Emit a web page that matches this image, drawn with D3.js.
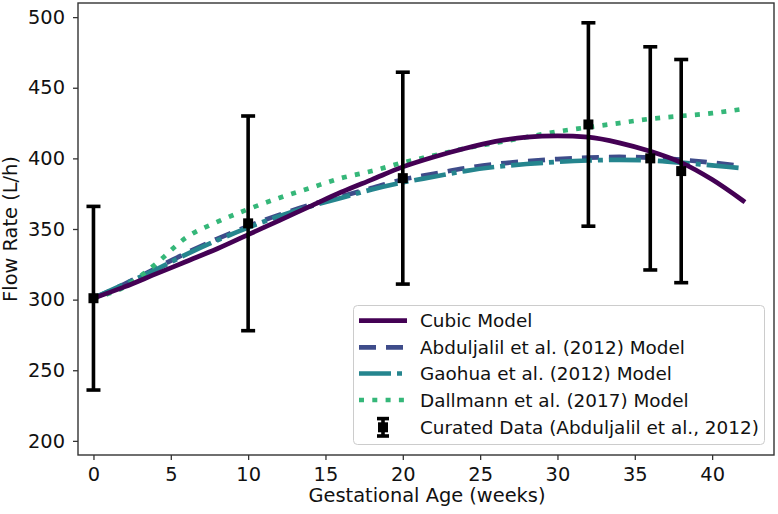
<!DOCTYPE html>
<html>
<head>
<meta charset="utf-8">
<script src="https://cdn.jsdelivr.net/npm/d3@7"></script>
<style>
  html, body { margin: 0; padding: 0; background: #fff; }
  svg { display: block; font-family: "DejaVu Sans", sans-serif; }
</style>
</head>
<body>
<svg id="chart" width="778" height="514"></svg>
<script>
// ---- data ----
const weeks = [0,2,4,6,8,10,12,14,16,18,20,22,24,26,28,30,32,34,36,38,40,42];
const cubicModel      = [301,309,318,327,336,346,356,366,376,385,394,401,407,412,415,416,415,411,405,397,385,370];
const abduljalilModel = [301,311,322,333,343,352,360,367,373,379,385,389,393,396,398,399.5,400.5,401,400.5,399,397,394.5];
const gaohuaModel     = [301,311,321,332,342,351,359,366,372,378,383,387,391,394,396,397.5,398.5,399,398.5,397,395,393];
const dallmannModel   = [301,309,325,344,355,364,372,379,386,391,397,402,407,411,415,419,422,425,428,430,432,435];

const dataWeeks = [0,10,20,32,36,38];
const dataMean  = [301,354,386,424,400,391];
const dataLow   = [236,278,311,352,321,312];
const dataHigh  = [366,430,461,496,479,470];

const xTicks = [0,5,10,15,20,25,30,35,40];
const yTicks = [200,250,300,350,400,450,500];

const seriesNames  = ["Cubic Model","Abduljalil et al. (2012) Model","Gaohua et al. (2012) Model","Dallmann et al. (2017) Model"];
const seriesColors = ["#440154","#3e4c8a","#25858e","#35b779"];
const seriesDash   = [null,"17,10","32,6,5,6","5,8.3"];
const dataLabel = "Curated Data (Abduljalil et al., 2012)";

// ---- layout ----
const svg = d3.select("#chart");
const L = 78, R = 774, T = 3, B = 455;
const x = d3.scaleLinear().domain([-1,44]).range([L,R]);
const y = d3.scaleLinear().domain([190,510]).range([B,T]);
const fs = 19.4;

svg.append("rect").attr("width",778).attr("height",514).attr("fill","#fff");

// axes
const xAxis = svg.append("g").attr("transform",`translate(0,${B})`)
  .call(d3.axisBottom(x).tickValues(xTicks).tickSize(5).tickPadding(7).tickFormat(d3.format("d")));
const yAxis = svg.append("g").attr("transform",`translate(${L},0)`)
  .call(d3.axisLeft(y).tickValues(yTicks).tickSize(5).tickPadding(8).tickFormat(d3.format("d")));
[xAxis,yAxis].forEach(a=>{
  a.select(".domain").remove();
  a.selectAll(".tick line").attr("stroke","#333").attr("stroke-width",1.3);
  a.selectAll(".tick text").attr("fill","#111").style("font-size",fs+"px").style("font-family","DejaVu Sans");
});

// curves
svg.append("defs").append("clipPath").attr("id","clip")
  .append("rect").attr("x",L).attr("y",T).attr("width",R-L).attr("height",B-T);
const plot = svg.append("g").attr("clip-path","url(#clip)");
const line = d3.line().x(d=>x(d[0])).y(d=>y(d[1])).curve(d3.curveMonotoneX);
const models = [cubicModel, abduljalilModel, gaohuaModel, dallmannModel];
const order = [1,2,3,0];
order.forEach(i=>{
  plot.append("path")
    .datum(weeks.map((w,k)=>[w,models[i][k]]))
    .attr("d",line).attr("fill","none")
    .attr("stroke",seriesColors[i]).attr("stroke-width",4.7)
    .attr("stroke-dasharray",seriesDash[i])
    .attr("stroke-linecap", i===0 ? "square" : "butt");
});

// error bars
const eb = plot.append("g");
dataWeeks.forEach((w,i)=>{
  const cx = x(w);
  eb.append("line").attr("x1",cx).attr("x2",cx).attr("y1",y(dataLow[i])).attr("y2",y(dataHigh[i]))
    .attr("stroke","#000").attr("stroke-width",3.6);
  [dataLow[i],dataHigh[i]].forEach(v=>{
    eb.append("line").attr("x1",cx-7).attr("x2",cx+7).attr("y1",y(v)).attr("y2",y(v))
      .attr("stroke","#000").attr("stroke-width",3.6);
  });
  eb.append("rect").attr("x",cx-5).attr("y",y(dataMean[i])-5).attr("width",10).attr("height",10).attr("fill","#000");
});

// spines
svg.append("rect").attr("x",L).attr("y",T).attr("width",R-L).attr("height",B-T)
  .attr("fill","none").attr("stroke","#333").attr("stroke-width",1.4);

// axis labels
svg.append("text").attr("x",(L+R)/2+1).attr("y",502).attr("text-anchor","middle")
  .style("font-size",fs+"px").attr("fill","#111").text("Gestational Age (weeks)");
svg.append("text").attr("transform",`translate(17,${(T+B)/2}) rotate(-90)`).attr("text-anchor","middle")
  .style("font-size",fs+"px").attr("fill","#111").text("Flow Rate (L/h)");

// legend
const lg = svg.append("g");
lg.append("rect").attr("x",353.5).attr("y",305.5).attr("width",411).attr("height",139).attr("rx",4)
  .attr("fill","#fff").attr("fill-opacity",0.8).attr("stroke","#cccccc").attr("stroke-width",1);
const rowY = [320.7,347.3,373.5,400,427.3];
const lfs = 18.4;
seriesNames.forEach((n,i)=>{
  lg.append("line").attr("x1",359).attr("x2",407).attr("y1",rowY[i]).attr("y2",rowY[i])
    .attr("stroke",seriesColors[i]).attr("stroke-width",4.7).attr("stroke-dasharray",seriesDash[i]);
  lg.append("text").attr("x",420).attr("y",rowY[i]+6.6).style("font-size",lfs+"px").attr("fill","#111").text(n);
});
{
  const cy = rowY[4], cx = 383;
  lg.append("line").attr("x1",cx).attr("x2",cx).attr("y1",cy-8.7).attr("y2",cy+8.7).attr("stroke","#000").attr("stroke-width",3.6);
  [cy-8.7,cy+8.7].forEach(v=>lg.append("line").attr("x1",cx-6).attr("x2",cx+6).attr("y1",v).attr("y2",v).attr("stroke","#000").attr("stroke-width",3.6));
  lg.append("rect").attr("x",cx-5).attr("y",cy-5).attr("width",10).attr("height",10).attr("fill","#000");
  lg.append("text").attr("x",420).attr("y",cy+6.6).style("font-size",lfs+"px").attr("fill","#111").text(dataLabel);
}
</script>
</body>
</html>
